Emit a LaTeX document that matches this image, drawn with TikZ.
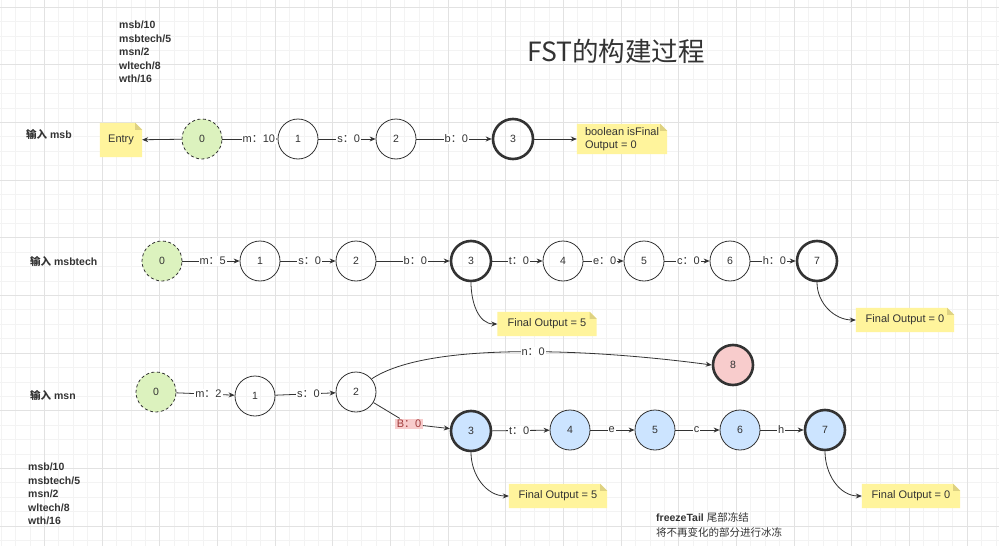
\documentclass[tikz,border=0pt]{standalone}
\usepackage{fontspec}
\setmainfont{Liberation Sans}
\newfontfamily\cjk{Noto Sans CJK SC}
\usetikzlibrary{arrows.meta,positioning,calc}
\definecolor{fstgrid}{RGB}{243,243,243}
\definecolor{fstgridmaj}{RGB}{226,226,226}
\definecolor{fstink}{RGB}{51,51,51}
\definecolor{fstgreen}{RGB}{220,242,190}
\definecolor{fstblue}{RGB}{204,228,255}
\definecolor{fstpink}{RGB}{248,204,204}
\definecolor{fstnote}{RGB}{255,244,156}
\definecolor{fstfold}{RGB}{222,210,130}
\definecolor{fstred}{RGB}{160,60,60}
\newcommand{\colonzh}{{\cjk ：}}
\pgfdeclarelayer{grid}
\pgfdeclarelayer{notebg}
\pgfsetlayers{grid,notebg,main}

\begin{document}
\begin{tikzpicture}[x=1pt,y=-1pt,
  st/.style={circle, draw=fstink, line width=0.8pt, minimum size=40pt, inner sep=0pt, text=fstink, font=\fontsize{10.5}{12}\selectfont},
  final/.style={st, line width=2.6pt},
  start/.style={st, dashed, dash pattern=on 3pt off 2.5pt, fill=fstgreen},
  edge/.style={draw=fstink, line width=0.8pt, -{Stealth[length=6pt,width=5pt]}},
  lab/.style={fill=white, inner sep=1pt, text=fstink, font=\fontsize{11}{13}\selectfont},
  elab/.style={lab, pos=0.53},
  note/.style={inner xsep=5pt, minimum height=24pt, text=fstink, font=\fontsize{11}{13}\selectfont},
  rowlab/.style={anchor=west, inner sep=0pt, text=fstink, font=\fontsize{10.5}{13.5}\selectfont\bfseries},
  ]
  \useasboundingbox (0,0) rectangle (999,546);

  % --- canvas grid
  \begin{pgfonlayer}{grid}
    \fill[white] (0,0) rectangle (999,546);
    \foreach \i in {0,...,69} \draw[fstgrid, line width=0.6pt] ({1.08+14.417*\i},0) -- ++(0,546);
    \foreach \i in {0,...,37} \draw[fstgrid, line width=0.6pt] (0,{7+14.417*\i}) -- ++(999,0);
    \foreach \i in {0,...,16} \draw[fstgridmaj, line width=0.8pt] ({44.33+57.67*\i},0) -- ++(0,546);
    \foreach \i in {0,...,9} \draw[fstgridmaj, line width=0.8pt] (0,{7+57.67*\i}) -- ++(999,0);
  \end{pgfonlayer}

  \node[text=fstink, font=\cjk\fontsize{26.5}{30}\selectfont] (title) at (616,51) {FST的构建过程};
  \node[rowlab, align=left] (dict) at (119,52) {msb/10\\msbtech/5\\msn/2\\wltech/8\\wth/16};

  % --- input msb
  \node[rowlab] (r1) at (26,134) {{\cjk 输入} msb};
  \node[note, minimum width=42pt, minimum height=34pt] (entry) at (121,140) {Entry};
  \node[start] (a0) at (202,139) {0};
  \node[st] (a1) at (298,139) {1};
  \node[st] (a2) at (396,139) {2};
  \node[final] (a3) at (513,139) {3};
  \node[note, align=left, minimum width=90pt, minimum height=30pt] (isfin) at (622,139) {boolean isFinal\\Output = 0};
  \draw[edge] (a0) -- (entry);
  \draw[edge] (a0) -- node[elab, pos=0.66]{m\colonzh10} (a1);
  \draw[edge] (a1) -- node[elab]{s\colonzh0} (a2);
  \draw[edge] (a2) -- node[elab]{b\colonzh0} (a3);
  \draw[edge] (a3) -- (isfin);

  % --- input msbtech
  \node[rowlab] (r2) at (30,261) {{\cjk 输入} msbtech};
  \node[start] (b0) at (162,261) {0};
  \foreach \n/\x in {1/260, 2/356, 4/563, 5/644, 6/730}
    \node[st] (b\n) at (\x,261) {\n};
  \node[final] (b3) at (471,261) {3};
  \node[final] (b7) at (817,261) {7};
  \foreach \a/\b/\l/\v in {0/1/m/5, 1/2/s/0, 2/3/b/0, 3/4/t/0, 4/5/e/0, 5/6/c/0, 6/7/h/0}
    \draw[edge] (b\a) -- node[elab]{\l\colonzh\v} (b\b);
  \node[note, minimum width=99pt] (fo1) at (547,324) {Final Output = 5};
  \node[note, minimum width=98pt] (fo2) at (905,320) {Final Output = 0};
  \draw[edge] (b3.south) to[out=-90, in=180] (fo1.west);
  \draw[edge] (b7.south) to[out=-90, in=180] (fo2.west);

  % --- input msn
  \node[rowlab] (r3) at (30,395) {{\cjk 输入} msn};
  \node[start] (c0) at (156,392) {0};
  \node[st] (c1) at (255,396) {1};
  \node[st] (c2) at (356,392) {2};
  \node[final, fill=fstblue] (c3) at (471,431) {3};
  \foreach \n/\x in {4/570, 5/655, 6/740}
    \node[st, fill=fstblue] (c\n) at (\x,430) {\n};
  \node[final, fill=fstblue] (c7) at (825,430) {7};
  \node[final, fill=fstpink] (c8) at (733,365) {8};
  \node[lab, fill=fstpink, text=fstred, inner sep=1.5pt] (bl) at (409,424) {B\colonzh0};
  \draw[edge] (c0) -- node[elab, pos=0.55]{m\colonzh2} (c1);
  \draw[edge] (c1) -- node[elab, pos=0.55]{s\colonzh0} (c2);
  \draw[edge] (c2) -- (bl) -- (c3);
  \draw[edge] (c2.40) .. controls (430,340) and (600,350) .. node[elab]{n\colonzh0} (c8.west);
  \draw[edge] (c3) -- node[elab, pos=0.47]{t\colonzh0} (c4);
  \foreach \a/\b/\l in {4/5/e, 5/6/c, 6/7/h}
    \draw[edge] (c\a) -- node[elab, pos=0.48]{\l} (c\b);
  \node[note, minimum width=98pt] (fo3) at (558,496) {Final Output = 5};
  \node[note, minimum width=98pt] (fo4) at (911,496) {Final Output = 0};
  \draw[edge] (c3.south) to[out=-90, in=180] (fo3.west);
  \draw[edge] (c7.south) to[out=-90, in=180] (fo4.west);

  \node[rowlab, align=left] (dict2) at (28,494) {msb/10\\msbtech/5\\msn/2\\wltech/8\\wth/16};
  \node[anchor=west, align=left, inner sep=0pt, text=fstink, font=\fontsize{10.5}{15}\selectfont] (frz) at (656,524.5)
    {\textbf{freezeTail} {\cjk 尾部冻结}\\{\cjk 将不再变化的部分进行冰冻}};

  % --- yellow notes with folded corner
  \begin{pgfonlayer}{notebg}
    \foreach \n in {entry, isfin, fo1, fo2, fo3, fo4}{
      \fill[fstnote] (\n.south west) -- (\n.north west) -- ([xshift=-7pt]\n.north east)
        -- ([yshift=-7pt]\n.north east) -- (\n.south east) -- cycle;
      \fill[fstfold] ([xshift=-7pt]\n.north east) -- ([xshift=-7pt,yshift=-7pt]\n.north east)
        -- ([yshift=-7pt]\n.north east) -- cycle;
    }
  \end{pgfonlayer}
\end{tikzpicture}
\end{document}
